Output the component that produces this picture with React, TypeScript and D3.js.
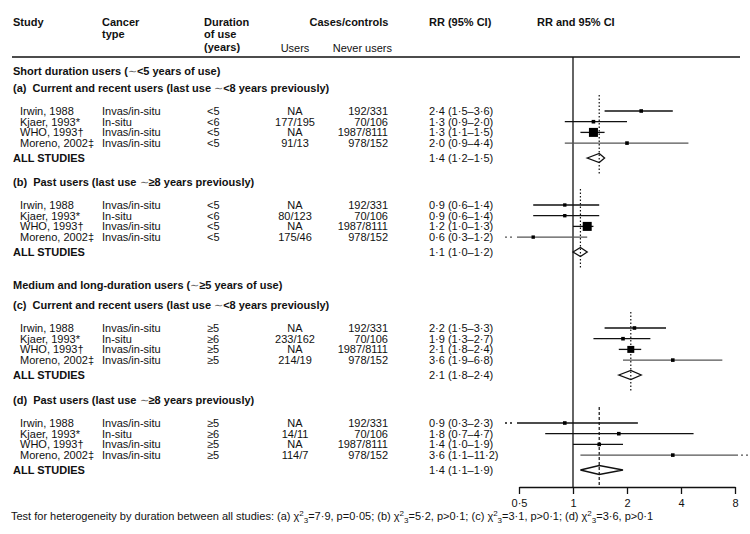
import { useEffect, useRef } from "react";
import * as d3 from "d3";

// ---- data ----
const studies = ["Irwin, 1988", "Kjaer, 1993*", "WHO, 1993†", "Moreno, 2002‡"];
const cancerTypes = ["Invas/in-situ", "In-situ", "Invas/in-situ", "Invas/in-situ"];
const neverUsers = ["192/331", "70/106", "1987/8111", "978/152"];

const groupLetters = ["a", "b", "c", "d"];
const groupTitles = [
  "Current and recent users (last use ∼<8 years previously)",
  "Past users (last use ∼≥8 years previously)",
  "Current and recent users (last use ∼<8 years previously)",
  "Past users (last use ∼≥8 years previously)",
];
const sectionTitles = [
  "Short duration users (∼<5 years of use)",
  "Medium and long-duration users (∼≥5 years of use)",
];

const durations = [
  ["<5", "<6", "<5", "<5"],
  ["<5", "<6", "<5", "<5"],
  ["≥5", "≥6", "≥5", "≥5"],
  ["≥5", "≥6", "≥5", "≥5"],
];
const usersCases = [
  ["NA", "177/195", "NA", "91/13"],
  ["NA", "80/123", "NA", "175/46"],
  ["NA", "233/162", "NA", "214/19"],
  ["NA", "14/11", "NA", "114/7"],
];
const rr = [
  [2.4, 1.3, 1.3, 2.0],
  [0.9, 0.9, 1.2, 0.6],
  [2.2, 1.9, 2.1, 3.6],
  [0.9, 1.8, 1.4, 3.6],
];
const rrLow = [
  [1.5, 0.9, 1.1, 0.9],
  [0.6, 0.6, 1.0, 0.3],
  [1.5, 1.3, 1.8, 1.9],
  [0.3, 0.7, 1.0, 1.1],
];
const rrHigh = [
  [3.6, 2.0, 1.5, 4.4],
  [1.4, 1.4, 1.3, 1.2],
  [3.3, 2.7, 2.4, 6.8],
  [2.3, 4.7, 1.9, 11.2],
];
// relative weight of each study (drives square size)
const weights = [
  [8, 8, 50, 8],
  [7, 7, 50, 7],
  [8, 8, 30, 8],
  [8, 8, 8, 8],
];
const pooled = [1.4, 1.1, 2.1, 1.4];
const pooledLow = [1.2, 1.0, 1.8, 1.1];
const pooledHigh = [1.5, 1.2, 2.4, 1.9];

const chiValues = ["7·9", "5·2", "3·1", "3·6"];
const pValues = ["p=0·05", "p>0·1", "p>0·1", "p>0·1"];
const axisTicks = [0.5, 1, 2, 4, 8];

const fmt = (v: number) => v.toFixed(1).replace(".", "·");

export default function App() {
  const axisRef = useRef<SVGGElement | null>(null);

  const width = 750;
  const height = 534;
  const x = d3.scaleLog().domain([0.5, 8]).range([519, 735]);
  const axisY = 487;
  const lineTop = 57;

  // layout: first row of each group, row pitch, offset of "ALL STUDIES"
  const groupStart = [111, 205, 328, 423];
  const pitch = 10.7;
  const allOffset = 47;
  const sectionY = [71, 285];
  const size = d3.scaleSqrt().domain([0, 50]).range([0, 9]);

  useEffect(() => {
    document.body.style.margin = "0";
    if (!axisRef.current) return;
    const g = d3.select(axisRef.current);
    g.selectAll("*").remove();
    g.call(
      d3
        .axisBottom(x)
        .tickValues(axisTicks)
        .tickFormat((d: any) => String(d).replace(".", "·"))
        .tickSize(7)
        .tickSizeOuter(0)
    );
    g.select(".domain").attr("stroke", "#111").attr("stroke-width", 1.3);
    g.selectAll(".tick line").attr("stroke", "#111").attr("stroke-width", 1.3);
    g.selectAll(".tick text")
      .attr("font-size", 11)
      .attr("font-family", "Liberation Sans, Arial, sans-serif")
      .attr("fill", "#111")
      .attr("dy", "0.9em");
  }, []);

  const font = "Liberation Sans, Arial, sans-serif";
  const txt = { fontFamily: font, fontSize: 11, fill: "#111" };
  const bold = { ...txt, fontWeight: 700 };

  const solidMin = x(0.5) - 2;
  const solidMax = x(8) + 3;

  return (
    <svg width={width} height={height} style={{ display: "block", background: "#fff" }}>
      {/* header */}
      <g {...bold}>
        <text x={13} y={22} dy="0.35em">Study</text>
        <text x={102} y={22} dy="0.35em">Cancer</text>
        <text x={102} y={34} dy="0.35em">type</text>
        <text x={204} y={22} dy="0.35em">Duration</text>
        <text x={204} y={34} dy="0.35em">of use</text>
        <text x={204} y={47} dy="0.35em">(years)</text>
        <text x={349} y={22} dy="0.35em" textAnchor="middle">Cases/controls</text>
        <text x={429} y={22} dy="0.35em">RR (95% CI)</text>
        <text x={537} y={22} dy="0.35em">RR and 95% CI</text>
      </g>
      <g {...txt}>
        <text x={295} y={48} dy="0.35em" textAnchor="middle">Users</text>
        <text x={392} y={48} dy="0.35em" textAnchor="end">Never users</text>
      </g>
      <line x1={12} x2={740} y1={lineTop} y2={lineTop} stroke="#111" strokeWidth={1.3} />

      {/* reference line at RR = 1 */}
      <line x1={x(1)} x2={x(1)} y1={lineTop} y2={axisY} stroke="#111" strokeWidth={1.3} />

      {/* section headings */}
      {sectionTitles.map((t, i) => {
        const parts = t.split("∼");
        return (
          <text key={t} x={13} y={sectionY[i]} dy="0.35em" {...bold}>
            {parts[0]}
            <tspan fontWeight={400} fill="#666">∼</tspan>
            {parts[1]}
          </text>
        );
      })}

      {groupLetters.map((letter, gi) => {
        const y0 = groupStart[gi];
        const rowY = (r: number) => y0 + r * pitch;
        const allY = y0 + allOffset;
        const parts = groupTitles[gi].split("∼");
        return (
          <g key={letter}>
            <text x={13} y={y0 - 23} dy="0.35em" {...bold}>
              {`(${letter})\u00a0\u00a0${parts[0]}`}
              <tspan fontWeight={400} fill="#666">∼</tspan>
              {parts[1]}
            </text>

            {studies.map((s, r) => (
              <g key={s} {...txt}>
                <text x={20} y={rowY(r)} dy="0.35em">{s}</text>
                <text x={102} y={rowY(r)} dy="0.35em">{cancerTypes[r]}</text>
                <text x={207} y={rowY(r)} dy="0.35em">{durations[gi][r]}</text>
                <text x={295} y={rowY(r)} dy="0.35em" textAnchor="middle">{usersCases[gi][r]}</text>
                <text x={388} y={rowY(r)} dy="0.35em" textAnchor="end">{neverUsers[r]}</text>
                <text x={429} y={rowY(r)} dy="0.35em">
                  {`${fmt(rr[gi][r])} (${fmt(rrLow[gi][r])}–${fmt(rrHigh[gi][r])})`}
                </text>
              </g>
            ))}
            <text x={13} y={allY} dy="0.35em" {...bold}>ALL STUDIES</text>
            <text x={429} y={allY} dy="0.35em" {...txt}>
              {`${fmt(pooled[gi])} (${fmt(pooledLow[gi])}–${fmt(pooledHigh[gi])})`}
            </text>

            {/* pooled estimate line */}
            <line
              x1={x(pooled[gi])}
              x2={x(pooled[gi])}
              y1={y0 - 16}
              y2={allY + 16}
              stroke="#111"
              strokeWidth={1.2}
              strokeDasharray={gi === 3 ? "3,2" : "1.5,2"}
            />

            {/* study CIs */}
            {studies.map((s, r) => {
              const y = rowY(r);
              const lo = rrLow[gi][r];
              const hi = rrHigh[gi][r];
              const col = r === 3 ? "#555" : "#111";
              const x1 = lo < 0.5 ? solidMin : x(lo);
              const x2 = hi > 8 ? solidMax : x(hi);
              const sz = size(weights[gi][r]);
              return (
                <g key={s}>
                  {lo < 0.5 && (
                    <line x1={505} x2={solidMin - 2} y1={y} y2={y} stroke={col} strokeWidth={1.3} strokeDasharray="2,3" />
                  )}
                  {hi > 8 && (
                    <line x1={solidMax + 3} x2={750} y1={y} y2={y} stroke={col} strokeWidth={1.3} strokeDasharray="2,3" />
                  )}
                  <line x1={x1} x2={x2} y1={y} y2={y} stroke={col} strokeWidth={1.3} />
                  <rect x={x(rr[gi][r]) - sz / 2} y={y - sz / 2} width={sz} height={sz} fill="#000" />
                </g>
              );
            })}

            {/* pooled diamond */}
            <path
              d={`M${x(pooledLow[gi])},${allY}L${x(pooled[gi])},${allY - 4.5}L${x(pooledHigh[gi])},${allY}L${x(pooled[gi])},${allY + 4.5}Z`}
              fill="none"
              stroke="#111"
              strokeWidth={1.3}
            />
          </g>
        );
      })}

      <g ref={axisRef} transform={`translate(0,${axisY})`} />

      {/* footnote */}
      <text x={11} y={520} {...txt}>
        Test for heterogeneity by duration between all studies:
        {groupLetters.map((l, i) => (
          <tspan key={l}>
            {` (${l}) χ`}
            <tspan fontSize={8} dy={-4}>2</tspan>
            <tspan fontSize={8} dy={7}>3</tspan>
            <tspan dy={-3}>{`=${chiValues[i]}, ${pValues[i]}${i < 3 ? ";" : ""}`}</tspan>
          </tspan>
        ))}
      </text>
    </svg>
  );
}
